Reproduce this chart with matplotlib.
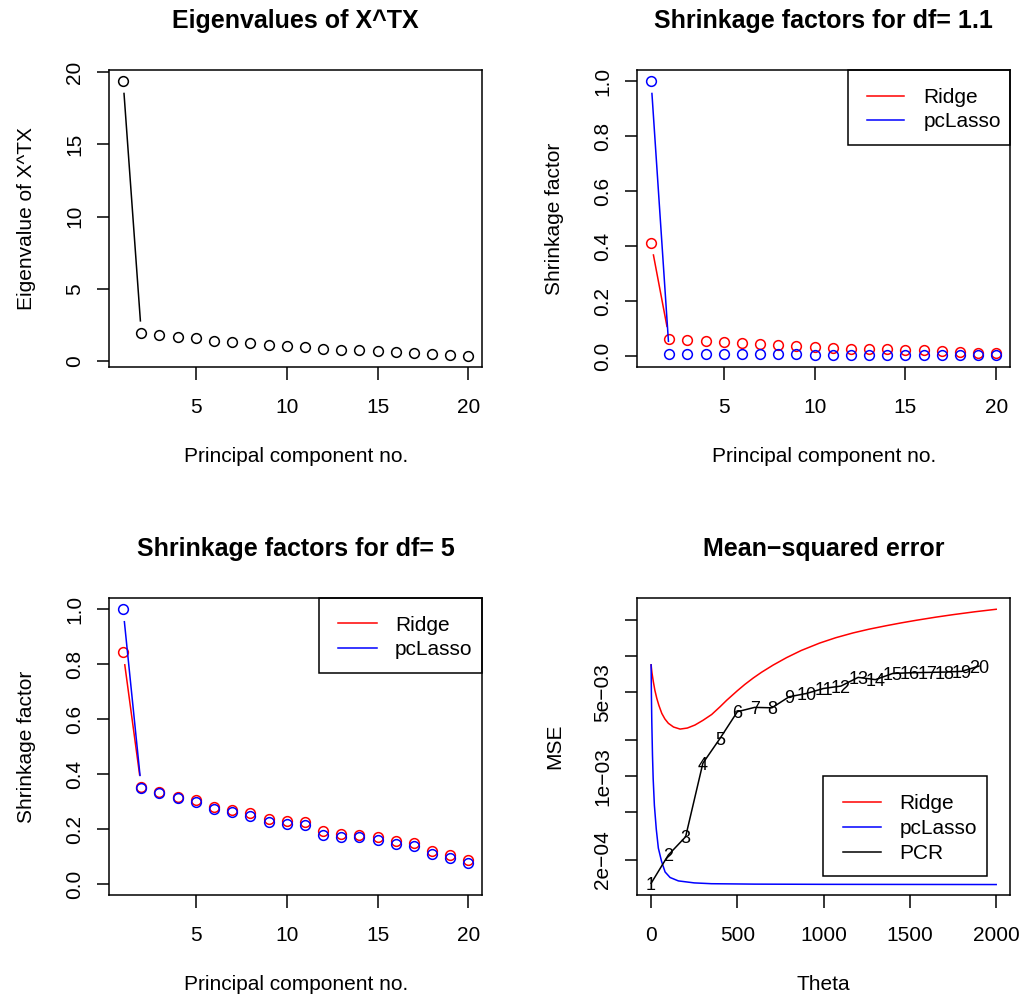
import numpy as np
import matplotlib
matplotlib.use("Agg")
import matplotlib.pyplot as plt
from matplotlib.transforms import Affine2D
from matplotlib.patches import Rectangle
from matplotlib.ticker import NullLocator

# principal components 1..20
components = list(range(1, 21))
eigenvalues = [19.38, 1.92, 1.78, 1.66, 1.57, 1.36, 1.29, 1.22, 1.09, 1.04,
               0.99, 0.81, 0.76, 0.74, 0.69, 0.62, 0.57, 0.48, 0.42, 0.35]

# shrinkage factors, df = 1.1
ridge_df11 = [0.412, 0.063, 0.058, 0.055, 0.051, 0.046, 0.042, 0.040, 0.036, 0.034,
              0.028, 0.027, 0.026, 0.024, 0.023, 0.022, 0.017, 0.016, 0.012, 0.011]
pclasso_df11 = [1.0, 0.008, 0.008, 0.007, 0.007, 0.007, 0.006, 0.006, 0.006, 0.005,
                0.005, 0.005, 0.004, 0.004, 0.004, 0.004, 0.003, 0.003, 0.002, 0.002]

# shrinkage factors, df = 5
ridge_df5 = [0.843, 0.352, 0.336, 0.318, 0.306, 0.282, 0.270, 0.258, 0.237, 0.230,
             0.225, 0.192, 0.181, 0.179, 0.171, 0.158, 0.151, 0.121, 0.104, 0.086]
pclasso_df5 = [1.0, 0.350, 0.331, 0.313, 0.300, 0.273, 0.261, 0.248, 0.227, 0.218,
               0.213, 0.179, 0.171, 0.171, 0.160, 0.146, 0.137, 0.110, 0.093, 0.075]

# mean-squared error against theta
theta_ridge = [0, 5, 13, 22, 33, 45, 62, 80, 100, 130, 168, 210, 254, 300, 351,
               400, 438, 500, 543, 592, 640, 707, 785, 870, 977, 1070, 1170,
               1263, 1363, 1450, 1537, 1650, 1750, 1875, 2000]
mse_ridge = [8.5e-3, 7.3e-3, 6.14e-3, 5.2e-3, 4.46e-3, 3.9e-3, 3.34e-3, 3.0e-3,
             2.76e-3, 2.57e-3, 2.47e-3, 2.52e-3, 2.67e-3, 2.92e-3, 3.27e-3,
             3.8e-3, 4.30e-3, 5.17e-3, 5.83e-3, 6.60e-3, 7.37e-3, 8.46e-3,
             9.77e-3, 0.01121, 0.01293, 0.01433, 0.01571, 0.01689, 0.01806,
             0.01907, 0.02005, 0.02129, 0.02234, 0.02360, 0.02478]
theta_pclasso = [0, 2, 4, 8, 12, 19, 30, 42, 60, 81, 110, 158, 250, 350, 600, 1000, 2000]
mse_pclasso = [8.5e-3, 4.5e-3, 2.85e-3, 1.5e-3, 9.5e-4, 5.7e-4, 3.6e-4, 2.5e-4,
               1.95e-4, 1.58e-4, 1.42e-4, 1.33e-4, 1.28e-4, 1.26e-4, 1.25e-4,
               1.245e-4, 1.24e-4]
pcr_theta = [0, 100, 200, 300, 400, 500, 600, 700, 800, 900,
             1000, 1100, 1200, 1300, 1400, 1500, 1600, 1700, 1800, 1900]
pcr_mse = [1.27e-4, 2.19e-4, 3.11e-4, 1.28e-3, 2.07e-3, 3.45e-3, 3.75e-3, 3.72e-3,
           4.6e-3, 4.9e-3, 5.4e-3, 5.65e-3, 6.68e-3, 6.4e-3, 7.2e-3, 7.3e-3,
           7.35e-3, 7.4e-3, 7.5e-3, 8.3e-3]

plt.rcParams['font.family'] = ['Liberation Sans', 'DejaVu Sans']
plt.rcParams['axes.unicode_minus'] = True

W, H = 1021, 996
fig = plt.figure(figsize=(W / 100, H / 100), dpi=100)
fig.patch.set_facecolor('white')
# pixel coordinates, origin at the top left
pix = Affine2D().scale(1 / W, -1 / H).translate(0, 1) + fig.transFigure

LW = 1.1
FS = 15


def make_axes(l, r, t, b):
    ax = fig.add_axes([l / W, 1 - b / H, (r - l) / W, (b - t) / H])
    for s in ax.spines.values():
        s.set_linewidth(LW)
    ax.tick_params(direction='out', length=9, width=LW, labelsize=FS)
    ax.tick_params(axis='x', pad=13.3)
    ax.tick_params(axis='y', pad=9, labelrotation=90)
    return ax


def labels(ax, box, title, xlabel, ylabel):
    l, r, t, b = box
    fig.text((l + r) / 2, t - 42, title, transform=pix, ha='center',
             va='baseline', fontsize=18, fontweight='bold')
    fig.text((l + r) / 2, b + 94.7, xlabel, transform=pix, ha='center',
             va='baseline', fontsize=FS)
    fig.text(l - 77, (t + b) / 2, ylabel, transform=pix, ha='center',
             va='baseline', fontsize=FS, rotation=90, rotation_mode='anchor')
    for lab in ax.get_yticklabels():
        lab.set_verticalalignment('center')


def points_with_gaps(ax, x, y, color, gap=12.5):
    # open circles joined by segments that stop short of each point
    ax.plot(x, y, 'o', mfc='none', mec=color, ms=7.0, mew=LW)
    pts = ax.transData.transform(np.column_stack([x, y]))
    inv = ax.transData.inverted()
    for p, q in zip(pts[:-1], pts[1:]):
        d = np.hypot(*(q - p))
        if d > 2 * gap:
            u = (q - p) / d
            a, c = inv.transform([p + gap * u, q - gap * u])
            ax.plot([a[0], c[0]], [a[1], c[1]], color=color, lw=LW)


def legend_box(x0, y0, x1, y1, rows, line_x, text_x):
    fig.patches.append(Rectangle((x0, y0), x1 - x0, y1 - y0, transform=pix,
                                 fill=False, lw=LW, edgecolor='black'))
    for (name, color, ry) in rows:
        fig.lines.append(plt.Line2D(line_x, [ry, ry], transform=pix,
                                    color=color, lw=LW))
        fig.text(text_x, ry + 7.4, name, transform=pix, ha='left',
                 va='baseline', fontsize=FS)


box1 = (109.3, 482.3, 70, 367)
box2 = (637.3, 1010, 70, 367)
box3 = (109.3, 482.3, 598.3, 895)
box4 = (637.3, 1010, 598.3, 895)

# eigenvalues
ax1 = make_axes(*box1)
ax1.set_xlim(0.24, 20.76)
ax1.set_ylim(-0.41, 20.14)
ax1.set_autoscale_on(False)
ax1.set_xticks([5, 10, 15, 20])
ax1.set_yticks([0, 5, 10, 15, 20])
points_with_gaps(ax1, components, eigenvalues, 'black')
labels(ax1, box1, 'Eigenvalues of X^TX', 'Principal component no.',
       'Eigenvalue of X^TX')

# shrinkage, df = 1.1
ax2 = make_axes(*box2)
ax2.set_xlim(0.24, 20.76)
ax2.set_ylim(-0.04, 1.04)
ax2.set_autoscale_on(False)
ax2.set_xticks([5, 10, 15, 20])
ax2.set_yticks([0, 0.2, 0.4, 0.6, 0.8, 1.0])
ax2.set_yticklabels(['0.0', '0.2', '0.4', '0.6', '0.8', '1.0'])
points_with_gaps(ax2, components, ridge_df11, 'red')
points_with_gaps(ax2, components, pclasso_df11, 'blue')
labels(ax2, box2, 'Shrinkage factors for df= 1.1', 'Principal component no.',
       'Shrinkage factor')
legend_box(847.7, 70, 1010, 145, [('Ridge', 'red', 96), ('pcLasso', 'blue', 120)],
           [866.7, 904.3], 923.3)

# shrinkage, df = 5
ax3 = make_axes(*box3)
ax3.set_xlim(0.24, 20.76)
ax3.set_ylim(-0.04, 1.04)
ax3.set_autoscale_on(False)
ax3.set_xticks([5, 10, 15, 20])
ax3.set_yticks([0, 0.2, 0.4, 0.6, 0.8, 1.0])
ax3.set_yticklabels(['0.0', '0.2', '0.4', '0.6', '0.8', '1.0'])
points_with_gaps(ax3, components, ridge_df5, 'red')
points_with_gaps(ax3, components, pclasso_df5, 'blue')
labels(ax3, box3, 'Shrinkage factors for df= 5', 'Principal component no.',
       'Shrinkage factor')
legend_box(319.3, 598.3, 481.7, 672.7, [('Ridge', 'red', 623.3), ('pcLasso', 'blue', 648)],
           [337.7, 376.7], 395)

# mean-squared error
ax4 = make_axes(*box4)
ax4.set_yscale('log')
ax4.set_xlim(-80, 2080)
ax4.set_ylim(1.014e-4, 0.0306)
ax4.set_autoscale_on(False)
ax4.set_xticks([0, 500, 1000, 1500, 2000])
ax4.set_yticks([2e-4, 5e-4, 1e-3, 2e-3, 5e-3, 1e-2, 2e-2])
ax4.set_yticklabels(['2e\u221204', '', '1e\u221203', '', '5e\u221203', '', ''])
ax4.yaxis.set_minor_locator(NullLocator())
ax4.plot(theta_ridge, mse_ridge, color='red', lw=LW)
ax4.plot(theta_pclasso, mse_pclasso, color='blue', lw=LW)
ax4.plot(pcr_theta, pcr_mse, color='black', lw=LW)
for i, (t, m) in enumerate(zip(pcr_theta, pcr_mse), start=1):
    ax4.text(t, m, str(i), ha='center', va='center_baseline', fontsize=13)
labels(ax4, box4, 'Mean\u2212squared error', 'Theta', 'MSE')
legend_box(823.3, 776, 986.7, 876,
           [('Ridge', 'red', 801.7), ('pcLasso', 'blue', 826.7), ('PCR', 'black', 851.7)],
           [842.7, 880.7], 899.3)

fig.savefig('out.png', dpi=100, facecolor='white')
